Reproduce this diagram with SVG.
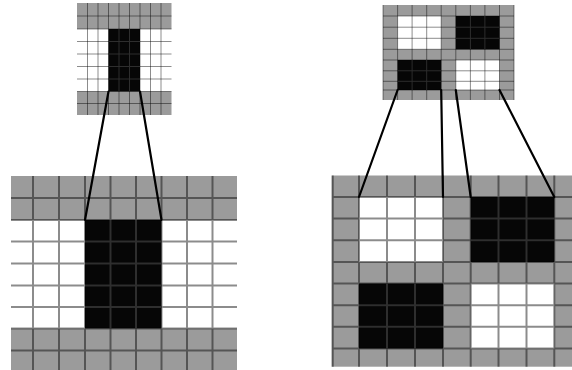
<svg xmlns="http://www.w3.org/2000/svg" width="572" height="370" viewBox="0 0 572 370">
<style>
.g{fill:#9b9b9b}
.w{fill:#ffffff}
.b{fill:#060606}
.gl{fill:none;stroke:#000;stroke-opacity:0.45}
.bl{fill:none;stroke:#2e2e2e}
.s1{stroke-width:1}
.s2{stroke-width:2}
.con{fill:none;stroke:#000;stroke-width:2.2;stroke-linecap:round}
</style>
<rect width="572" height="370" fill="#fff"/>
<g id="grid-small-left">
<rect class="g" x="77" y="3" width="94.5" height="26"/>
<rect class="w" x="77" y="29" width="94.5" height="62.5"/>
<rect class="g" x="77" y="91.5" width="94.5" height="23.5"/>
<rect class="b" x="108.5" y="29" width="31.5" height="62.5"/>
<path class="gl s1" d="M87.5 3V115M98 3V115M108.5 3V115M119 3V115M129.5 3V115M140 3V115M150.5 3V115M161 3V115M77 16H171.5M77 29H171.5M77 41.5H171.5M77 54H171.5M77 66.5H171.5M77 79H171.5M77 91.5H171.5M77 103.5H171.5"/>
<path class="bl s1" d="M119 29V91.5M129.5 29V91.5M108.5 41.5H140M108.5 54H140M108.5 66.5H140M108.5 79H140"/>
</g>
<g id="grid-big-left">
<rect class="g" x="11" y="176" width="226" height="44"/>
<rect class="w" x="11" y="220" width="226" height="108.5"/>
<rect class="g" x="11" y="328.5" width="226" height="41.5"/>
<rect class="b" x="85" y="220" width="76.5" height="108.5"/>
<path class="gl s2" d="M33 176V370M59 176V370M85 176V370M110.5 176V370M136 176V370M161.5 176V370M187 176V370M212.5 176V370M11 198H237M11 220H237M11 241.5H237M11 263.5H237M11 285.5H237M11 307H237M11 328.5H237M11 350.5H237"/>
<path class="bl s2" d="M110.5 220V328.5M136 220V328.5M85 241.5H161.5M85 263.5H161.5M85 285.5H161.5M85 307H161.5"/>
</g>
<g id="grid-small-right">
<rect class="g" x="383" y="5" width="131" height="95"/>
<rect class="w" x="397.6" y="16" width="43.6" height="33.3"/>
<rect class="b" x="455.8" y="16" width="43.7" height="33.3"/>
<rect class="b" x="397.6" y="60" width="43.6" height="30"/>
<rect class="w" x="455.8" y="60" width="43.7" height="30"/>
<path class="gl s1" d="M383 5V100M397.6 5V100M412.1 5V100M426.7 5V100M441.2 5V100M455.8 5V100M470.4 5V100M484.9 5V100M499.5 5V100M514 5V100M383 16H514M383 27.2H514M383 38.3H514M383 49.3H514M383 60H514M383 70.8H514M383 81.3H514M383 90H514"/>
<path class="bl s1" d="M470.4 16V49.3M484.9 16V49.3M455.8 27.2H499.5M455.8 38.3H499.5M412.1 60V90M426.7 60V90M397.6 70.8H441.2M397.6 81.3H441.2"/>
</g>
<g id="grid-big-right">
<rect class="g" x="331.7" y="175.5" width="240.3" height="191.2"/>
<rect class="w" x="359" y="197" width="84" height="65"/>
<rect class="b" x="470.7" y="197" width="83.6" height="65"/>
<rect class="b" x="359" y="283.5" width="84" height="65"/>
<rect class="w" x="470.7" y="283.5" width="83.6" height="65"/>
<path class="gl s2" d="M332.7 175.5V366.7M359 175.5V366.7M387 175.5V366.7M415 175.5V366.7M443 175.5V366.7M470.7 175.5V366.7M498.5 175.5V366.7M526.5 175.5V366.7M554.3 175.5V366.7M331.7 197H572M331.7 218.5H572M331.7 240.3H572M331.7 262H572M331.7 283.5H572M331.7 305.2H572M331.7 326.8H572M331.7 348.5H572"/>
<path class="bl s2" d="M498.5 197V262M526.5 197V262M470.7 218.5H554.3M470.7 240.3H554.3M387 283.5V348.5M415 283.5V348.5M359 305.2H443M359 326.8H443"/>
</g>
<g id="connectors">
<path class="con" d="M108.5 91.5L85 220"/>
<path class="con" d="M140 91.5L161.5 220"/>
<path class="con" d="M397.6 90L359 197"/>
<path class="con" d="M441.2 90L443 197"/>
<path class="con" d="M455.8 90L470.7 197"/>
<path class="con" d="M499.5 90L554.3 197"/>
</g>
</svg>
